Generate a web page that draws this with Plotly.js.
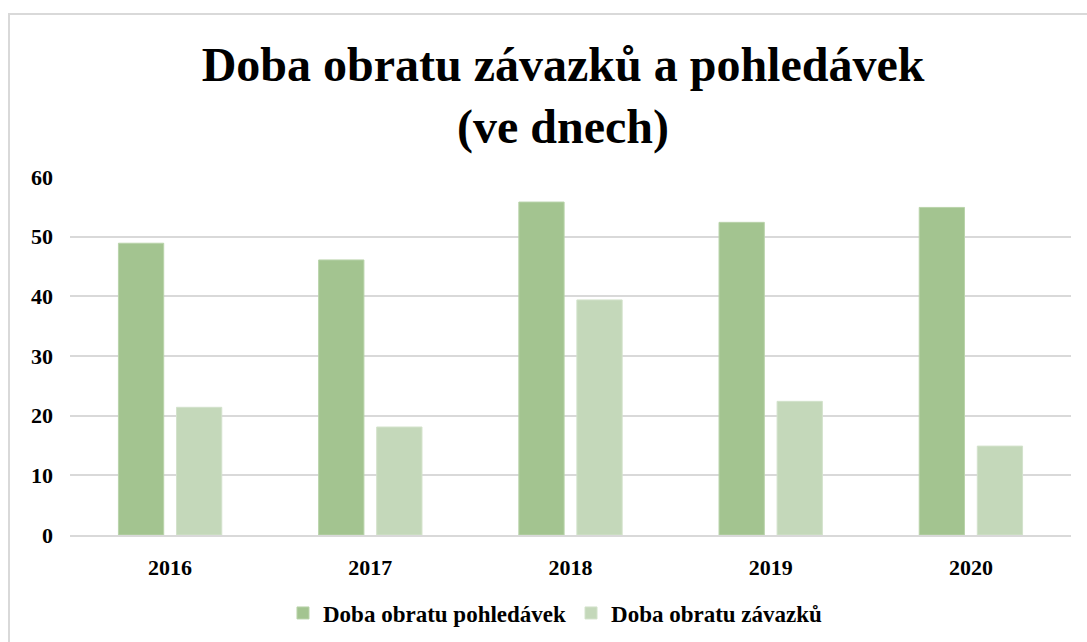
<!DOCTYPE html>
<html>
<head>
<meta charset="utf-8">
<script src="https://cdn.plot.ly/plotly-3.0.1.min.js"></script>
<style>
  html, body { margin: 0; padding: 0; background: #fff; overflow: hidden; }
  #wrap { position: relative; width: 1087px; height: 642px; }
  #chart { position: absolute; left: 0; top: 0; width: 1087px; height: 642px; }
  #frame { position: absolute; left: 8px; top: 13px; width: 1200px; height: 800px;
           border: 2px solid #D9D9D9; box-sizing: border-box; pointer-events: none; }
</style>
</head>
<body>
<div id="wrap">
  <div id="chart"></div>
  <div id="frame"></div>
</div>
<script>
const years = ["2016", "2017", "2018", "2019", "2020"];
const pohledavky = [48.9, 46.1, 55.8, 52.4, 54.9];
const zavazky = [21.4, 18.1, 39.4, 22.4, 14.9];
const seriesNames = ["Doba obratu pohledávek", "Doba obratu závazků"];
const yTicks = [0, 10, 20, 30, 40, 50, 60];
const titleText = "Doba obratu závazků a pohledávek<br>(ve dnech)";

const fontFam = "'Liberation Serif', 'Times New Roman', serif";

const traces = [
  {
    type: "bar", x: years, y: pohledavky, name: seriesNames[0],
    marker: { color: "#A3C490", line: { color: "#B9D3AA", width: 1 } },
    hoverinfo: "x+y"
  },
  {
    type: "bar", x: years, y: zavazky, name: seriesNames[1],
    marker: { color: "#C4D8BA", line: { color: "#D3E2CB", width: 1 } },
    hoverinfo: "x+y"
  }
];

const layout = {
  width: 1087, height: 642,
  paper_bgcolor: "rgba(0,0,0,0)", plot_bgcolor: "#fff",
  margin: { l: 70, r: 16, t: 177, b: 107, pad: 0 },
  font: { family: fontFam, color: "#000", size: 22, weight: "bold" },
  title: {
    text: titleText,
    font: { family: fontFam, size: 48, color: "#000", weight: "bold" },
    x: 0.518, xref: "container", xanchor: "center",
    y: 1 - 81 / 642, yref: "container", yanchor: "top"
  },
  barmode: "group",
  bargap: 0.42,
  bargroupgap: 0.22,
  xaxis: {
    type: "category",
    showgrid: false, zeroline: false,
    showline: true, linecolor: "#D9D9D9", linewidth: 2,
    ticks: "", ticklabelstandoff: 12,
    tickfont: { family: fontFam, size: 22, color: "#000", weight: "bold" }
  },
  yaxis: {
    range: [0, 60], tickvals: yTicks, ticktext: yTicks.map(String),
    showgrid: true, gridcolor: "#D9D9D9", gridwidth: 2,
    zeroline: false, showline: false, ticks: "",
    ticklabelstandoff: 16,
    tickfont: { family: fontFam, size: 22, color: "#000", weight: "bold" }
  },
  showlegend: true,
  legend: {
    orientation: "h",
    x: 0.485, xref: "paper", xanchor: "center",
    y: 1 - 613 / 642, yref: "container", yanchor: "middle",
    font: { family: fontFam, size: 23, color: "#000", weight: "bold" },
    itemwidth: 30, tracegroupgap: 0,
    bgcolor: "rgba(0,0,0,0)"
  }
};

Plotly.newPlot("chart", traces, layout, { displayModeBar: false, staticPlot: true });
</script>
</body>
</html>
